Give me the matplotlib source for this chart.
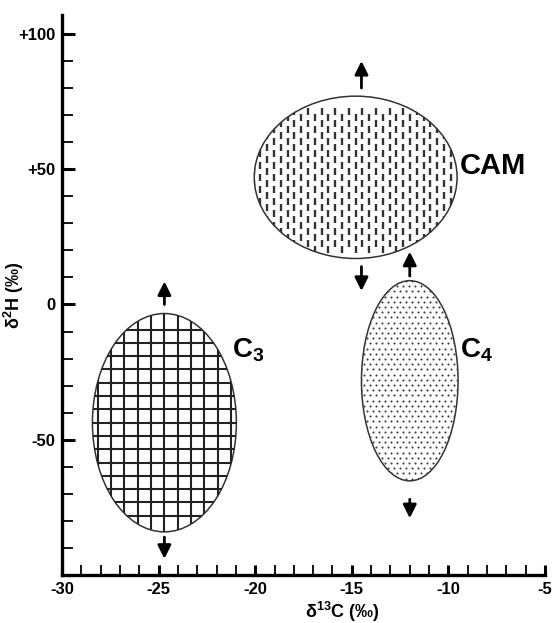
import numpy as np
import matplotlib
matplotlib.use("Agg")
import matplotlib.pyplot as plt
from matplotlib.patches import Ellipse
from matplotlib.collections import LineCollection

plt.rcParams['font.family'] = ['Liberation Sans', 'DejaVu Sans']
plt.rcParams['font.weight'] = 'bold'
plt.rcParams['mathtext.fontset'] = 'custom'
plt.rcParams['mathtext.rm'] = 'Liberation Sans:bold'
plt.rcParams['mathtext.it'] = 'Liberation Sans:bold'
plt.rcParams['mathtext.bf'] = 'Liberation Sans:bold'
plt.rcParams['axes.unicode_minus'] = False

# ellipse fields: name, centre d13C, centre d2H, width, height
names = ['C3', 'C4', 'CAM']
cx = [-24.7, -12.0, -14.8]
cy = [-43.7, -28.2, 47.0]
widths = [7.45, 5.0, 10.5]
heights = [80.7, 74.0, 60.0]

# arrows (x, y_start, y_end)
arrows = [(-24.7, 0.0, 8.5), (-24.7, -86.0, -94.0),
          (-12.0, 10.5, 19.5), (-12.0, -72.0, -79.0),
          (-14.5, 80.0, 90.0), (-14.5, 14.0, 5.0)]

xticks = [-30, -25, -20, -15, -10, -5]
yticks = [-50, 0, 50, 100]
ytick_labels = ['-50', '0', '+50', '+100']

fig = plt.figure(figsize=(5.53, 6.23), dpi=100)
L, R, B, T = 62, 545, 48, 608
ax = fig.add_axes([L/553, B/623, (R-L)/553, (T-B)/623])
ax.set_xlim(-30, -5)
ax.set_ylim(-100, 107)

# pixel scale of data units
pxx = (R - L) / 25.0
pxy = (T - B) / 207.0

for sp in ['top', 'right']:
    ax.spines[sp].set_visible(False)
for sp in ['left', 'bottom']:
    ax.spines[sp].set_linewidth(2.4)

ax.set_xticks(xticks)
ax.set_xticklabels([str(t) for t in xticks])
ax.set_yticks(yticks)
ax.set_yticklabels(ytick_labels)
ax.set_xticks(np.arange(-29, -5, 1), minor=True)
ax.set_yticks(np.arange(-90, 101, 10), minor=True)
ax.tick_params(which='major', direction='in', length=9, width=2.2, labelsize=12, pad=5)
ax.tick_params(which='minor', direction='in', length=8, width=1.3)
ax.tick_params(axis='x', which='both', length=7)

ax.set_xlabel('δ$^{13}$C (‰)', fontsize=13, fontweight='bold')
ax.xaxis.set_label_coords(0.58, -0.045)
ax.set_ylabel('δ$^{2}$H (‰)', fontsize=13, fontweight='bold')
ax.yaxis.set_label_coords(-0.075, 0.5)

ells = []
for i in range(3):
    e = Ellipse((cx[i], cy[i]), widths[i], heights[i], facecolor='white',
                edgecolor='#333333', lw=1.1, zorder=3)
    ax.add_patch(e)
    ells.append(e)

# C3 grid pattern
e = ells[0]
sx = 13.3 / pxx
sy = 13.3 / pxy
segs = []
for x in np.arange(cx[0] - 6 * sx, cx[0] + 6 * sx, sx):
    segs.append([(x, cy[0] - 50), (x, cy[0] + 50)])
for y in np.arange(cy[0] - 7 * sy, cy[0] + 7 * sy, sy):
    segs.append([(cx[0] - 5, y), (cx[0] + 5, y)])
lc = LineCollection(segs, colors='#222222', linewidths=1.5, zorder=4)
ax.add_collection(lc)
lc.set_clip_path(e)

# CAM vertical dashes
e = ells[2]
sx = 6.8 / pxx
sy = 12.0 / pxy
dl = 6.5 / pxy
segs = []
for j, x in enumerate(np.arange(cx[2] - 16 * sx, cx[2] + 16 * sx, sx)):
    off = 0.5 * sy * (j % 2)
    for y in np.arange(cy[2] - 6 * sy + off, cy[2] + 6 * sy, sy):
        segs.append([(x, y - dl / 2), (x, y + dl / 2)])
lc = LineCollection(segs, colors='#333333', linewidths=1.7, zorder=4)
ax.add_collection(lc)
lc.set_clip_path(e)

# C4 dots
e = ells[1]
sx = 6.0 / pxx
sy = 5.2 / pxy
px, py = [], []
for j, y in enumerate(np.arange(cy[1] - 40, cy[1] + 40, sy)):
    off = 0.5 * sx * (j % 2)
    for x in np.arange(cx[1] - 3 + off, cx[1] + 3, sx):
        px.append(x)
        py.append(y)
sc = ax.scatter(px, py, s=2.4, c='#444444', linewidths=0, zorder=4)
sc.set_clip_path(e)

for x, y0, y1 in arrows:
    ax.annotate('', xy=(x, y1), xytext=(x, y0),
                arrowprops=dict(arrowstyle='-|>,head_length=0.8,head_width=0.4',
                                color='black', lw=2.0, shrinkA=0, shrinkB=0),
                zorder=5)

ax.text(-9.4, 51, 'CAM', fontsize=21, fontweight='bold', ha='left', va='center')
ax.text(-21.2, -17, 'C$_{3}$', fontsize=20, fontweight='bold', ha='left', va='center')
ax.text(-9.4, -17, 'C$_{4}$', fontsize=20, fontweight='bold', ha='left', va='center')

fig.savefig('out.png', dpi=100)
